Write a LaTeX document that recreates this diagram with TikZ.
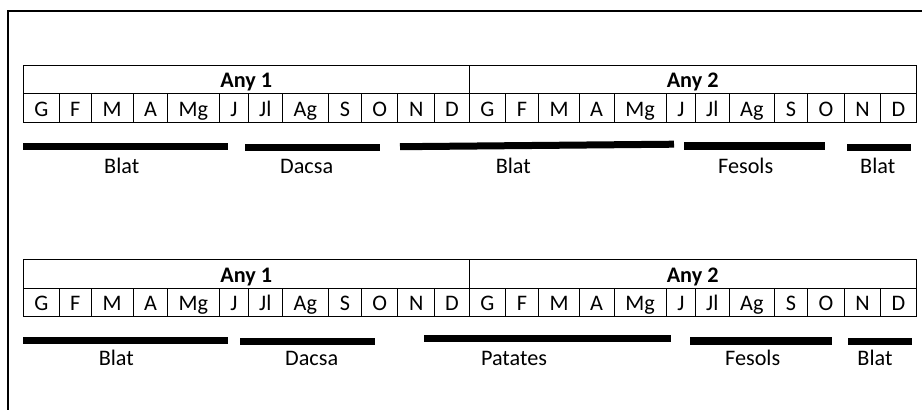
\documentclass[tikz,border=0pt]{standalone}
\usepackage{fontspec}
\setmainfont{Carlito}
\usepackage{tikz}
\usetikzlibrary{positioning}

\newcommand{\txt}{\fontsize{22.2}{26}\selectfont}

\begin{document}
\begin{tikzpicture}[x=1pt, y=-1pt,
	cell/.style = {draw, line width=.9pt, outer sep=0pt, inner sep=0pt, minimum height=28.5pt, text height=18pt, text depth=.6pt, font=\txt},
	head/.style = {cell, minimum width=446pt, font=\txt\bfseries},
	bar/.style = {line width=7pt},
	lbl/.style = {anchor=base, inner sep=0pt, font=\txt}]
	\useasboundingbox (0,0) rectangle (922,410);
	\draw[line width=1.5pt] (8,412) -- (8,11) -- (924,11);
	% the two tables
	\foreach \t/\yy in {a/65, b/259.5} {
		\node[head, anchor=north west] (\t-any1) at (23.3,\yy) {Any 1};
		\node[head, minimum width=446.7pt, anchor=north west] (\t-any2) at (\t-any1.north east) {Any 2};
		\node[cell, minimum width=36pt, anchor=north west] (\t-1) at (\t-any1.south west) {G};
		\foreach \m/\w [count=\i from 2, evaluate=\i as \j using int(\i-1)] in
			{F/31.7pt, M/42.3pt, A/34.3pt, Mg/51.7pt, J/29pt, Jl/34pt, Ag/46pt, S/33.4pt, O/36pt, N/37pt, D/34.6pt,
			 G/36pt, F/33.4pt, M/40.6pt, A/34.7pt, Mg/52.3pt, J/29pt, Jl/34pt, Ag/45pt, S/33.4pt, O/36.6pt, N/36.4pt, D/35.3pt}
			\node[cell, minimum width=\w, right=0pt of \t-\j] (\t-\i) {\m};
	}
	% crops, first rotation
	\draw[bar] (23,146.5) -- (228,146.5);
	\draw[bar] (245,147.5) -- (380,147.5);
	\draw[bar] (400,146.7) -- (674,144.2);
	\draw[bar, line width=8.5pt] (684,146.2) -- (825,146.2);
	\draw[bar, line width=6.5pt] (847,147.5) -- (911,147.5);
	\node[lbl] (blat1) at (121.7,173) {Blat};
	\node[lbl] (dacsa1) at (306.7,173) {Dacsa};
	\node[lbl] (blat2) at (513.3,173) {Blat};
	\node[lbl] (fesols1) at (745.7,173) {Fesols};
	\node[lbl] (blat3) at (877.7,173) {Blat};
	% crops, second rotation
	\draw[bar] (23,340) -- (228,340);
	\draw[bar] (240,341.3) -- (375,341.3);
	\draw[bar] (424,338.5) -- (670.7,338.5);
	\draw[bar, line width=8pt] (690,340.8) -- (832,340.8);
	\draw[bar] (848,341.3) -- (912,341.3);
	\node[lbl] (blat4) at (116.3,365.7) {Blat};
	\node[lbl] (dacsa2) at (311.7,365.7) {Dacsa};
	\node[lbl] (patates) at (514,365.7) {Patates};
	\node[lbl] (fesols2) at (752.7,365.7) {Fesols};
	\node[lbl] (blat5) at (875,365.7) {Blat};
\end{tikzpicture}
\end{document}
